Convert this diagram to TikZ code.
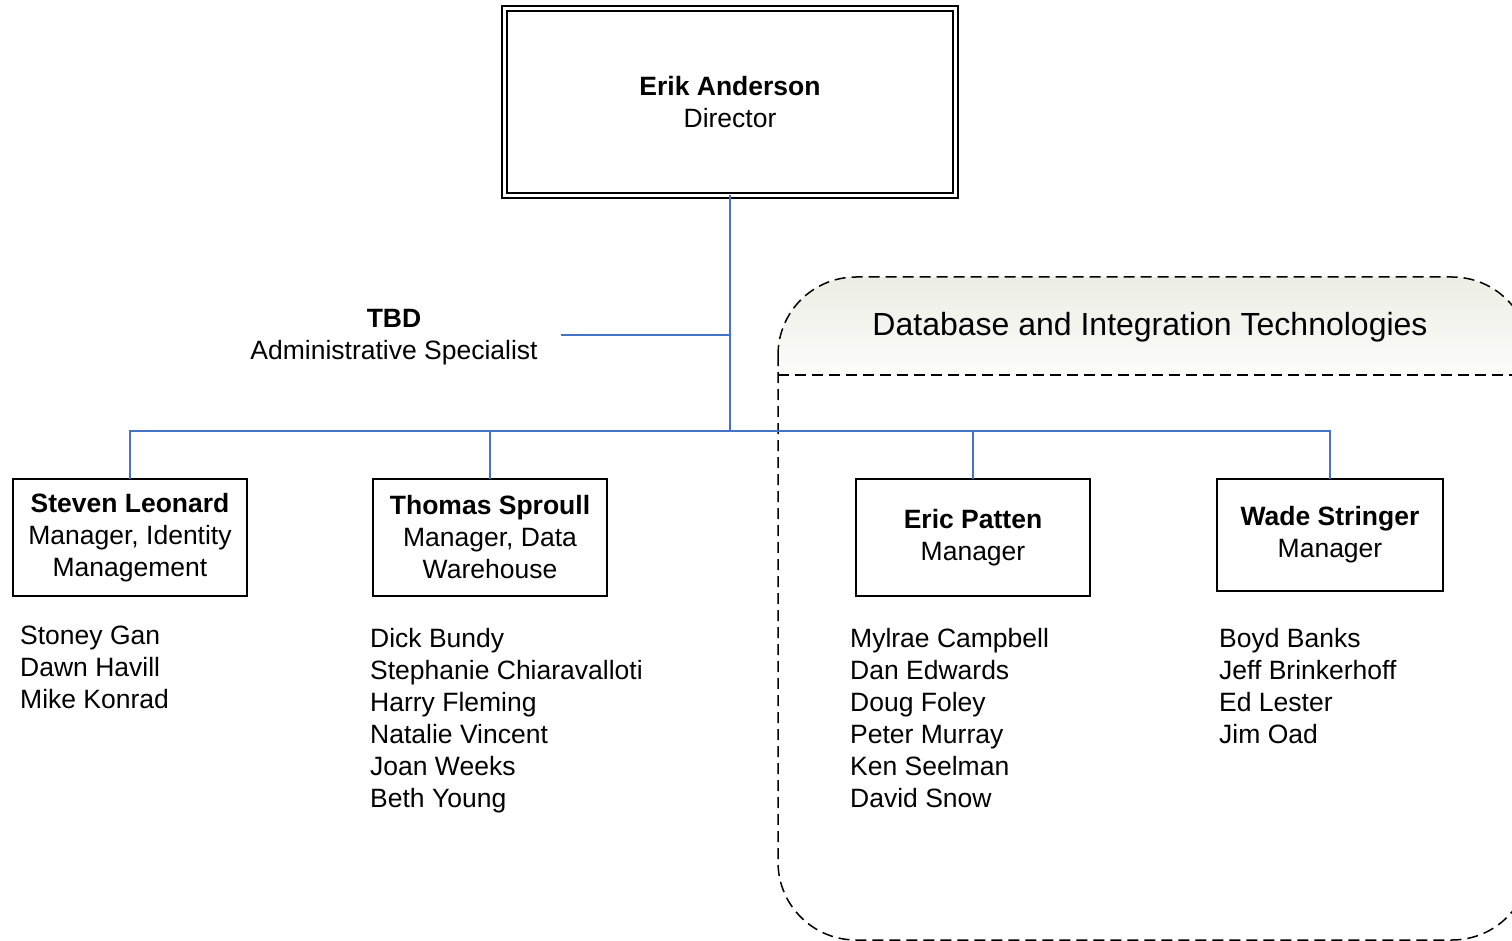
\documentclass[tikz,border=0pt]{standalone}
\usepackage{fontspec}
\setmainfont{Liberation Sans}
\definecolor{linkblue}{RGB}{68,114,196}
\definecolor{hdrtop}{RGB}{236,237,228}
\definecolor{hdrbot}{RGB}{252,252,250}
\begin{document}
\begin{tikzpicture}[x=1pt,y=-1pt,
  txt/.style={font=\fontsize{26.5}{32}\selectfont, align=center, inner sep=0pt, outer sep=0pt},
  list/.style={font=\fontsize{26.5}{32}\selectfont, align=left, inner sep=0pt, anchor=west},
  mbox/.style={draw=black, line width=1.4pt, txt},
  conn/.style={draw=linkblue, line width=1.6pt},
  grp/.style={draw=black, line width=1.5pt, dash pattern=on 11pt off 6pt}]
\useasboundingbox (0,0) rectangle (1512,941);

% group region
\begin{scope}
  \clip[rounded corners=78pt] (778,277) rectangle (1530,940);
  \shade[top color=hdrtop, bottom color=hdrbot] (778,277) rectangle (1530,375);
\end{scope}
\draw[grp, rounded corners=78pt] (778,277) rectangle (1530,940);
\draw[grp] (778,375) -- (1530,375);
\node[txt, font=\fontsize{32}{38}\selectfont] (grptitle) at (1150,327) {Database and Integration Technologies};

% director
\node[mbox, line width=1.5pt, double, double distance=3.5pt, minimum width=451pt, minimum height=187pt] (ceo) at (730,102)
  {\textbf{Erik Anderson}\\Director};

% admin
\node[txt] (tbd) at (394,337) {\textbf{TBD}\\Administrative Specialist};

% managers
\node[mbox, minimum width=234pt, minimum height=117pt] (sl) at (130,537.5)
  {\textbf{Steven Leonard}\\Manager, Identity\\Management};
\node[mbox, minimum width=234pt, minimum height=117pt] (ts) at (490,537.5)
  {\textbf{Thomas Sproull}\\Manager, Data\\Warehouse};
\node[mbox, minimum width=234pt, minimum height=117pt] (ep) at (973,537.5)
  {\textbf{Eric Patten}\\Manager};
\node[mbox, minimum width=226pt, minimum height=112pt] (ws) at (1330,535)
  {\textbf{Wade Stringer}\\Manager};

% staff lists
\node[list] (slstaff) at (20,667) {Stoney Gan\\Dawn Havill\\Mike Konrad};
\node[list] (tsstaff) at (370,721) {Dick Bundy\\Stephanie Chiaravalloti\\Harry Fleming\\Natalie Vincent\\Joan Weeks\\Beth Young};
\node[list] (epstaff) at (850,718) {Mylrae Campbell\\Dan Edwards\\Doug Foley\\Peter Murray\\Ken Seelman\\David Snow};
\node[list] (wsstaff) at (1219,686) {Boyd Banks\\Jeff Brinkerhoff\\Ed Lester\\Jim Oad};

% connectors
\coordinate (bus) at (730,431);
\coordinate (tbdj) at (730,335);
\coordinate (tbdend) at (561,335);
\draw[conn] (ceo.south) -- (bus);
\draw[conn] (tbdj) -- (tbdend);
\draw[conn] (bus) -| (sl.north);
\draw[conn] (bus) -| (ts.north);
\draw[conn] (bus) -| (ep.north);
\draw[conn] (bus) -| (ws.north);
\end{tikzpicture}
\end{document}
